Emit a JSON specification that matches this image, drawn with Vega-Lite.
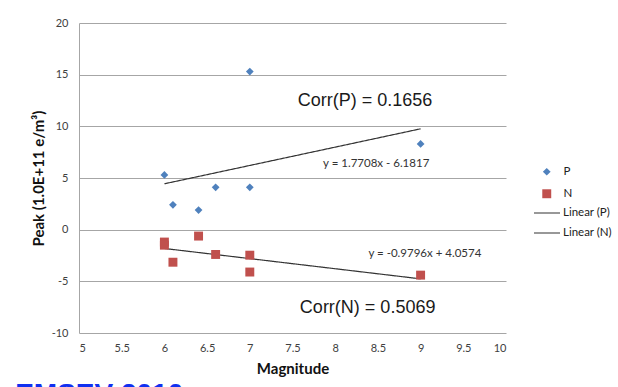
{
  "$schema": "https://vega.github.io/schema/vega-lite/v6.json",
  "autosize": {"type": "none"},
  "width": 427,
  "height": 310,
  "padding": {"left": 79, "top": 23, "right": 112, "bottom": 54},
  "background": "white",
  "config": {
    "view": {"stroke": null},
    "font": "Lato",
    "axis": {"labelFont": "Lato", "titleFont": "Lato"}
  },
  "title": {
    "text": "EMSEV 2010",
    "orient": "bottom",
    "anchor": "start",
    "frame": "bounds",
    "color": "#1030f0",
    "fontSize": 28,
    "fontWeight": "bold",
    "font": "Liberation Sans",
    "offset": 5,
    "dx": -16
  },
  "datasets": {
    "points": [
      {"series": "P", "magnitude": 6.0, "peak": 5.3},
      {"series": "P", "magnitude": 6.1, "peak": 2.4},
      {"series": "P", "magnitude": 6.4, "peak": 1.9},
      {"series": "P", "magnitude": 6.6, "peak": 4.1},
      {"series": "P", "magnitude": 7.0, "peak": 4.1},
      {"series": "P", "magnitude": 7.0, "peak": 15.3},
      {"series": "P", "magnitude": 9.0, "peak": 8.3},
      {"series": "N", "magnitude": 6.0, "peak": -1.2},
      {"series": "N", "magnitude": 6.0, "peak": -1.5},
      {"series": "N", "magnitude": 6.1, "peak": -3.15},
      {"series": "N", "magnitude": 6.4, "peak": -0.62},
      {"series": "N", "magnitude": 6.6, "peak": -2.4},
      {"series": "N", "magnitude": 7.0, "peak": -2.47},
      {"series": "N", "magnitude": 7.0, "peak": -4.1},
      {"series": "N", "magnitude": 9.0, "peak": -4.4}
    ],
    "trends": [
      {"trend": "Linear (P)", "magnitude": 6.0, "peak": 4.44},
      {"trend": "Linear (P)", "magnitude": 9.0, "peak": 9.76},
      {"trend": "Linear (N)", "magnitude": 6.0, "peak": -1.82},
      {"trend": "Linear (N)", "magnitude": 9.0, "peak": -4.76}
    ],
    "labels": [
      {"label": "Corr(P) = 0.1656", "magnitude": 8.35, "peak": 12.45, "kind": "big"},
      {"label": "Corr(N) = 0.5069", "magnitude": 8.38, "peak": -7.6, "kind": "big"},
      {"label": "y = 1.7708x - 6.1817", "magnitude": 8.48, "peak": 6.35, "kind": "small"},
      {"label": "y = -0.9796x + 4.0574", "magnitude": 9.05, "peak": -2.36, "kind": "small"}
    ]
  },
  "encoding": {
    "x": {
      "field": "magnitude",
      "type": "quantitative",
      "scale": {"domain": [5, 10], "nice": false, "zero": false},
      "axis": {
        "title": "Magnitude",
        "values": [5, 5.5, 6, 6.5, 7, 7.5, 8, 8.5, 9, 9.5, 10],
        "format": "~g",
        "grid": false,
        "ticks": false,
        "domain": false,
        "labelFontSize": 11,
        "labelColor": "#404040",
        "labelPadding": 9,
        "titleFontSize": 15,
        "titleFontWeight": "bold",
        "titleColor": "#111111",
        "titlePadding": 8
      }
    },
    "y": {
      "field": "peak",
      "type": "quantitative",
      "scale": {"domain": [-10, 20], "nice": false},
      "axis": {
        "title": "Peak (1.0E+11 e/m³)",
        "values": [-10, -5, 0, 5, 10, 15, 20],
        "labelExpr": "replace(datum.label, '−', '-')",
        "grid": true,
        "gridColor": "#a6a6a6",
        "gridWidth": 1,
        "ticks": false,
        "domain": true,
        "domainColor": "#a6a6a6",
        "labelFontSize": 11,
        "labelColor": "#404040",
        "labelPadding": 11,
        "titleFontSize": 15,
        "titleFontWeight": "bold",
        "titleColor": "#111111",
        "titlePadding": 5
      }
    }
  },
  "layer": [
    {
      "data": {"name": "trends"},
      "mark": {"type": "line", "color": "#333333", "strokeWidth": 1.2},
      "encoding": {
        "detail": {"field": "trend"},
        "strokeDash": {
          "field": "trend",
          "type": "nominal",
          "scale": {"domain": ["Linear (P)", "Linear (N)"], "range": [[1, 0], [1, 0]]},
          "legend": {
            "title": null,
            "orient": "none",
            "legendX": 454,
            "legendY": 176,
            "symbolType": "stroke",
            "symbolSize": 676,
            "symbolStrokeColor": "#333333",
            "symbolStrokeWidth": 1.2,
            "labelFontSize": 11.5,
            "labelColor": "#222222",
            "rowPadding": 0,
            "labelOffset": 2
          }
        }
      }
    },
    {
      "data": {"name": "points"},
      "mark": {"type": "point", "filled": true, "opacity": 1},
      "encoding": {
        "color": {
          "field": "series",
          "type": "nominal",
          "scale": {"domain": ["P", "N"], "range": ["#4f81bd", "#c0504d"]},
          "legend": {
            "title": null,
            "orient": "none",
            "legendX": 462,
            "legendY": 143,
            "labelFontSize": 11.5,
            "labelColor": "#222222",
            "rowPadding": 9,
            "labelOffset": 11
          }
        },
        "shape": {
          "field": "series",
          "type": "nominal",
          "scale": {"domain": ["P", "N"], "range": ["diamond", "square"]},
          "legend": null
        },
        "size": {
          "field": "series",
          "type": "nominal",
          "scale": {"domain": ["P", "N"], "range": [60, 80]},
          "legend": null
        }
      }
    },
    {
      "data": {"name": "labels"},
      "transform": [{"filter": "datum.kind == 'big'"}],
      "mark": {"type": "text", "font": "Liberation Sans", "fontSize": 18, "color": "#1a1a1a"},
      "encoding": {"text": {"field": "label"}}
    },
    {
      "data": {"name": "labels"},
      "transform": [{"filter": "datum.kind == 'small'"}],
      "mark": {"type": "text", "font": "Lato", "fontSize": 11.5, "color": "#333333"},
      "encoding": {"text": {"field": "label"}}
    }
  ]
}
